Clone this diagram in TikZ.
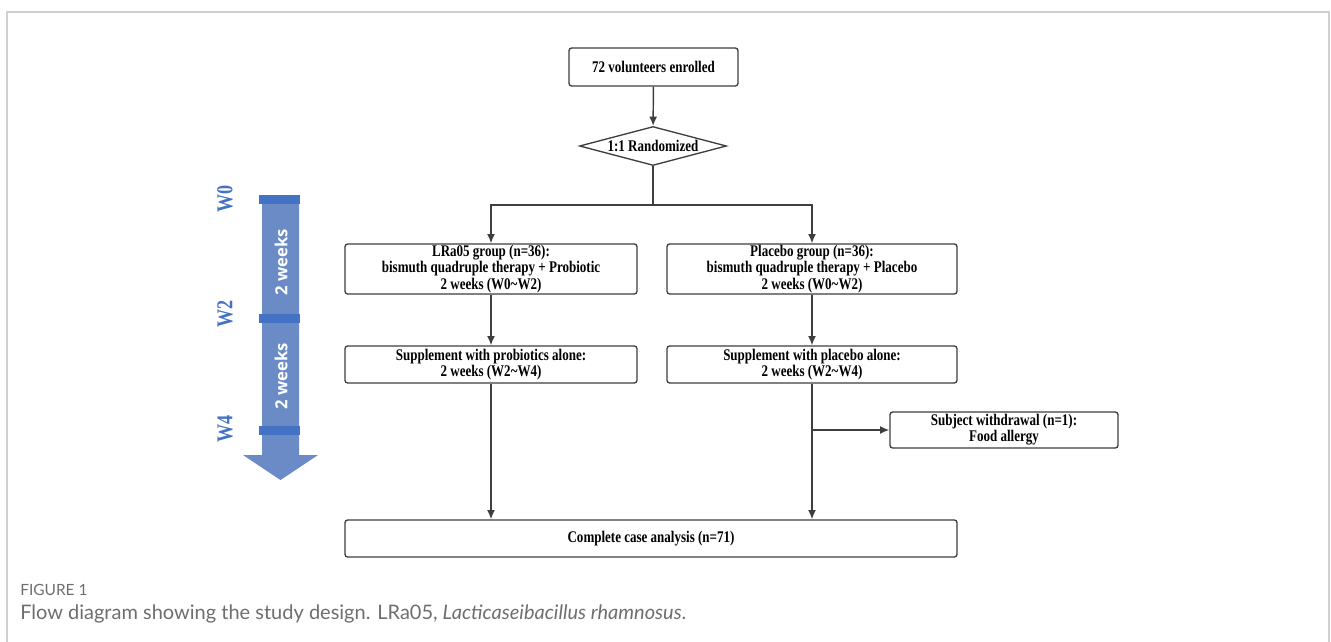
\documentclass[tikz,border=0pt]{standalone}
\usepackage{fontspec}
\setmainfont{Liberation Serif}[FakeStretch=0.8]
\newfontfamily\capfont{Lato}
\newfontfamily\tlfont{Open Sans}
\usepackage{xcolor}
\usetikzlibrary{shapes.geometric,arrows.meta,positioning}
\tikzset{>={Latex[length=7pt,width=6pt]}}

\definecolor{linegray}{RGB}{62,62,62}
\definecolor{framegray}{RGB}{208,208,208}
\definecolor{tlfill}{RGB}{106,139,198}
\definecolor{tlbar}{RGB}{68,114,196}
\definecolor{capgray}{RGB}{110,110,110}

\newcommand{\boxfont}{\fontsize{12.2}{12.2}\selectfont\bfseries}

\begin{document}
\begin{tikzpicture}[x=0.75pt,y=-0.75pt,
                          box/.style={draw=linegray, line width=1pt, rounded corners=2pt,
                                      align=center, inner sep=0pt, font=\boxfont},
                          decide/.style={draw=linegray, line width=1pt, diamond, aspect=3.77,
                                      inner sep=0pt, font=\boxfont},
                          conn/.style={draw=linegray, line width=1.1pt},
                          wlabel/.style={rotate=90, text=tlbar, font=\fontsize{17}{18}\selectfont\bfseries},
                          wktext/.style={rotate=90, text=white, font=\tlfont\fontsize{12.5}{14}\selectfont\bfseries},
                          tlbarbox/.style={fill=tlbar, draw=none},
                         ]

\useasboundingbox (0,0) rectangle (1331,642);
\draw[framegray, line width=1pt] (7,642) -- (7,12) -- (1329,12) -- (1329,642);

% flow chart
\node[box, minimum width=126.75pt, minimum height=28.5pt] (enrol) at (653.5,67) {72 volunteers enrolled};
\node[decide, minimum width=110.25pt, minimum height=29.25pt] (rand) at (653,146) {1:1 Randomized};

\node[box, minimum width=219pt, minimum height=37.5pt] (lra) at (491,269)
  {LRa05 group (n=36):\\ bismuth quadruple therapy + Probiotic\\ 2 weeks (W0\textasciitilde W2)};
\node[box, minimum width=217.5pt, minimum height=37.5pt] (pla) at (812,269)
  {Placebo group (n=36):\\ bismuth quadruple therapy + Placebo\\ 2 weeks (W0\textasciitilde W2)};

\node[box, minimum width=219pt, minimum height=27.75pt] (supa) at (491,364.5)
  {Supplement with probiotics alone:\\ 2 weeks (W2\textasciitilde W4)};
\node[box, minimum width=217.5pt, minimum height=27.75pt] (supb) at (812,364.5)
  {Supplement with placebo alone:\\ 2 weeks (W2\textasciitilde W4)};

\node[box, minimum width=171pt, minimum height=27pt] (wd) at (1004,430)
  {Subject withdrawal (n=1):\\ Food allergy};
\node[box, minimum width=459pt, minimum height=27.75pt] (cca) at (651,538.5)
  {Complete case analysis (n=71)};

\coordinate (split) at (653,205);
\coordinate (wdsplit) at (supb.south |- wd.west);

\draw[conn,->] (enrol) -- (rand);
\draw[conn] (rand.south) -- (split);
\draw[conn,->] (split) -| (lra.north);
\draw[conn,->] (split) -| (pla.north);
\draw[conn,->] (lra) -- (supa);
\draw[conn,->] (pla) -- (supb);
\draw[conn,->] (supa.south) -- (supa.south |- cca.north);
\draw[conn,->] (supb.south) -- (supb.south |- cca.north);
\draw[conn,->] (wdsplit) -- (wd.west);

% timeline
\fill[tlfill] (262,195) -- (299,195) -- (299,455) -- (318,455) -- (280.5,480)
              -- (243,455) -- (262,455) -- cycle;
\fill[tlbarbox] (259,195) rectangle (300,204);
\fill[tlbarbox] (259,314) rectangle (300,323);
\fill[tlbarbox] (259,426) rectangle (300,435);

\node[wlabel] (w0) at (225,199) {W0};
\node[wlabel] (w2) at (225,314) {W2};
\node[wlabel] (w4) at (225,429) {W4};
\node[wktext] (wka) at (281,262) {2 weeks};
\node[wktext] (wkb) at (281,376) {2 weeks};

% caption
\node[anchor=base west, inner sep=0pt, text=capgray, font=\capfont\fontsize{11.6}{12}\selectfont] (figno) at (20,595) {FIGURE 1};
\node[anchor=base west, inner sep=0pt, text=capgray, font=\capfont\fontsize{15}{16}\selectfont] (capt) at (20,619)
  {Flow diagram showing the study design. LRa05, \textit{Lacticaseibacillus rhamnosus}.};

\end{tikzpicture}
\end{document}
